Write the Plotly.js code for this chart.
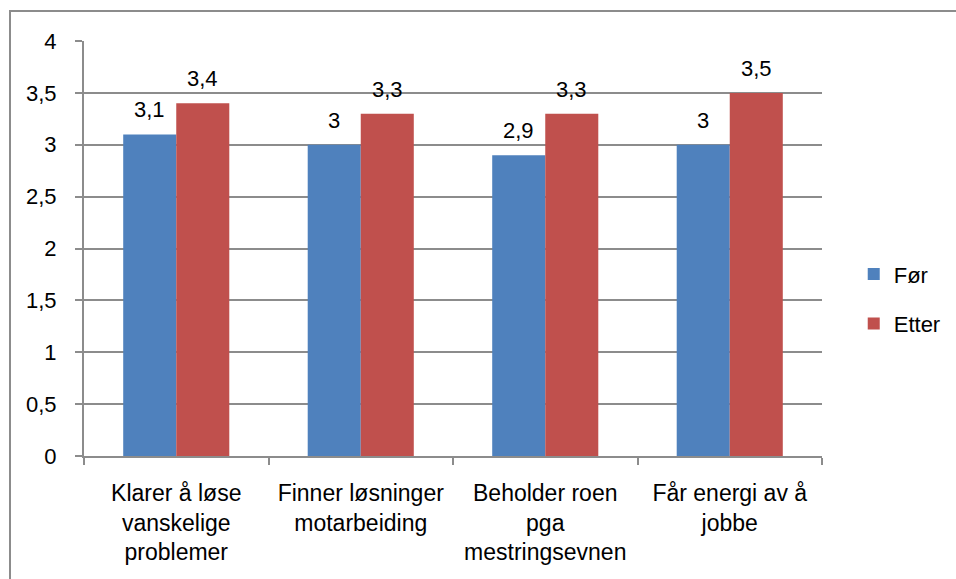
<!DOCTYPE html>
<html>
<head>
<meta charset="utf-8">
<script src="https://cdn.plot.ly/plotly-3.0.1.min.js"></script>
<style>
  html, body { margin: 0; padding: 0; background: #fff; }
  #chart { width: 956px; height: 579px; }
</style>
</head>
<body>
<div id="chart"></div>
<script>
// Survey items (before / after), mean scores
const categories = [
  'Klarer å løse<br>vanskelige<br>problemer',
  'Finner løsninger<br>motarbeiding',
  'Beholder roen<br>pga<br>mestringsevnen',
  'Får energi av å<br>jobbe'
];
const seriesNames = ['Før', 'Etter'];
const forValues = [3.1, 3.0, 2.9, 3.0];
const etterValues = [3.4, 3.3, 3.3, 3.5];
const yTicks = [0, 0.5, 1, 1.5, 2, 2.5, 3, 3.5, 4];

const FONT = 'Liberation Sans, Arial, sans-serif';
const GRID = '#8c8c8c';
const COLORS = ['#4F81BD', '#C0504D'];

const traces = [forValues, etterValues].map((vals, i) => ({
  type: 'bar', name: seriesNames[i], x: categories, y: vals,
  marker: { color: COLORS[i] },
  offsetgroup: String(i), legendgroup: String(i),
  hoverinfo: 'skip'
}));

// Value labels above each bar, offset to the left/right half of the group
const annotations = [];
[forValues, etterValues].forEach((vals, i) => {
  vals.forEach((v, j) => {
    annotations.push({
      x: categories[j], y: v, xref: 'x', yref: 'y',
      text: v.toFixed(1).replace('.', ',').replace(',0', ''),
      showarrow: false, yanchor: 'bottom',
      xshift: i === 0 ? -26.5 : 26.5, yshift: 10,
      font: { family: FONT, size: 22, color: '#000' }
    });
  });
});

const layout = {
  width: 956, height: 579,
  margin: { l: 84, r: 134, t: 41, b: 123, autoexpand: false },
  paper_bgcolor: '#fff', plot_bgcolor: '#fff',
  separators: ',.',
  font: { family: FONT, size: 22, color: '#000' },
  barmode: 'group',
  bargap: 0.425, bargroupgap: 0,
  showlegend: true,
  legend: {
    x: 1.043, xanchor: 'left', y: 0.378, yanchor: 'middle',
    font: { family: FONT, size: 22, color: '#000' },
    traceorder: 'grouped', tracegroupgap: 18,
    bgcolor: 'rgba(0,0,0,0)'
  },
  xaxis: {
    type: 'category',
    showline: true, linecolor: GRID, linewidth: 2,
    ticks: 'outside', tickson: 'boundaries', ticklen: 7, tickcolor: GRID, tickwidth: 2,
    showgrid: false, zeroline: false,
    tickfont: { family: FONT, size: 23, color: '#000' },
    ticklabelstandoff: 15
  },
  yaxis: {
    range: [0, 4], tickvals: yTicks, tickformat: '.1~f',
    showline: true, linecolor: GRID, linewidth: 2,
    ticks: 'outside', ticklen: 7, tickcolor: GRID, tickwidth: 2,
    showgrid: true, gridcolor: GRID, gridwidth: 2,
    zeroline: false,
    tickfont: { family: FONT, size: 22, color: '#000' },
    ticklabelstandoff: 14
  },
  annotations: annotations,
  shapes: [
    // chart-area frame
    {
      type: 'rect', xref: 'paper', yref: 'paper',
      x0: (10 - 84) / 738, x1: (1000 - 84) / 738,
      y0: -(640 - 456) / 415, y1: (456 - 11) / 415,
      line: { color: '#8c8c8c', width: 2 }, fillcolor: 'rgba(0,0,0,0)', layer: 'below'
    }
  ]
};

Plotly.newPlot('chart', traces, layout, { displayModeBar: false, staticPlot: true });
</script>
</body>
</html>
